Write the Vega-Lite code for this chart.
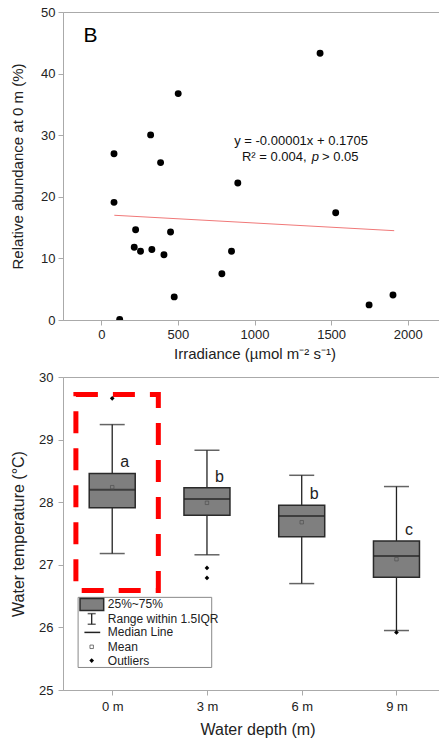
{
  "$schema": "https://vega.github.io/schema/vega-lite/v6.json",
  "padding": {"left": 10, "top": 5, "right": 0, "bottom": 0},
  "background": "white",
  "spacing": 8,
  "datasets": {
    "scatter": [
      {"x": 83, "y": 27.0}, {"x": 83, "y": 19.1}, {"x": 120, "y": 0.1},
      {"x": 215, "y": 11.8}, {"x": 224, "y": 14.65}, {"x": 256, "y": 11.15},
      {"x": 322, "y": 30.05}, {"x": 330, "y": 11.45}, {"x": 387, "y": 25.55},
      {"x": 409, "y": 10.6}, {"x": 452, "y": 14.3}, {"x": 476, "y": 3.75},
      {"x": 502, "y": 36.75}, {"x": 787, "y": 7.5}, {"x": 850, "y": 11.15},
      {"x": 891, "y": 22.25}, {"x": 1428, "y": 43.3}, {"x": 1530, "y": 17.4},
      {"x": 1748, "y": 2.45}, {"x": 1904, "y": 4.05}
    ],
    "fit": [{"x": 85, "y": 17.0}, {"x": 1912, "y": 14.5}],
    "boxes": [
      {"depth": 0, "lo": 27.18, "q1": 27.91, "median": 28.2, "mean": 28.24, "q3": 28.46, "hi": 29.24, "letter": "a"},
      {"depth": 3, "lo": 27.16, "q1": 27.79, "median": 28.05, "mean": 27.99, "q3": 28.23, "hi": 28.83, "letter": "b"},
      {"depth": 6, "lo": 26.7, "q1": 27.45, "median": 27.78, "mean": 27.68, "q3": 27.95, "hi": 28.43, "letter": "b"},
      {"depth": 9, "lo": 25.95, "q1": 26.8, "median": 27.14, "mean": 27.09, "q3": 27.38, "hi": 28.25, "letter": "c"}
    ],
    "outliers": [
      {"depth": 0, "temp": 29.66},
      {"depth": 3, "temp": 26.95},
      {"depth": 3, "temp": 26.79},
      {"depth": 9, "temp": 25.92}
    ],
    "legendText": [
      {"label": "25%~75%", "y": 26.37},
      {"label": "Range within 1.5IQR", "y": 26.14},
      {"label": "Median Line", "y": 25.92},
      {"label": "Mean", "y": 25.69},
      {"label": "Outliers", "y": 25.47}
    ]
  },
  "vconcat": [
    {
      "width": 383,
      "height": 308,
      "layer": [
        {
          "data": {"name": "scatter"},
          "mark": {"type": "circle", "size": 48, "color": "black", "opacity": 1, "clip": true},
          "encoding": {
            "x": {
              "field": "x", "type": "quantitative",
              "scale": {"domain": [-250, 2250], "nice": false, "zero": false},
              "axis": {
                "title": "Irradiance (µmol m⁻² s⁻¹)",
                "values": [0, 500, 1000, 1500, 2000],
                "format": "d",
                "labelOverlap": false,
                "labelFlush": false,
                "tickSize": 5,
                "labelPadding": 3,
                "titlePadding": 5,
                "titleFontSize": 15
              }
            },
            "y": {
              "field": "y", "type": "quantitative",
              "scale": {"domain": [0, 50], "nice": false},
              "axis": {
                "title": "Relative abundance at 0 m (%)",
                "values": [0, 5, 10, 15, 20, 25, 30, 35, 40, 45, 50],
                "labelExpr": "datum.value % 10 === 0 ? format(datum.value, 'd') : ''",
                "labelOverlap": false,
                "tickSize": {"condition": {"test": "datum.value % 10 === 0", "value": 5}, "value": 3},
                "labelPadding": 3,
                "titlePadding": 15,
                "titleFontSize": 15
              }
            }
          }
        },
        {
          "data": {"name": "fit"},
          "mark": {"type": "line", "color": "#f07878", "strokeWidth": 1},
          "encoding": {
            "x": {"field": "x", "type": "quantitative"},
            "y": {"field": "y", "type": "quantitative"}
          }
        },
        {
          "data": {"values": [{"x": -117, "y": 46.1, "t": "B"}]},
          "mark": {"type": "text", "align": "left", "baseline": "middle", "fontSize": 21, "color": "black"},
          "encoding": {
            "x": {"field": "x", "type": "quantitative"},
            "y": {"field": "y", "type": "quantitative"},
            "text": {"field": "t"}
          }
        },
        {
          "data": {"values": [{"x": 1304, "y": 29.06, "t": "y = -0.00001x + 0.1705"}]},
          "mark": {"type": "text", "align": "center", "baseline": "middle", "fontSize": 13, "color": "#111"},
          "encoding": {
            "x": {"field": "x", "type": "quantitative"},
            "y": {"field": "y", "type": "quantitative"},
            "text": {"field": "t"}
          }
        },
        {
          "data": {"values": [{"x": 918, "y": 26.51, "t": "R² = 0.004,"}, {"x": 1441, "y": 26.51, "t": "> 0.05"}]},
          "mark": {"type": "text", "align": "left", "baseline": "middle", "fontSize": 13, "color": "#111"},
          "encoding": {
            "x": {"field": "x", "type": "quantitative"},
            "y": {"field": "y", "type": "quantitative"},
            "text": {"field": "t"}
          }
        },
        {
          "data": {"values": [{"x": 1397, "y": 26.51, "t": "p"}]},
          "mark": {"type": "text", "align": "center", "baseline": "middle", "fontSize": 13, "fontStyle": "italic", "color": "#111"},
          "encoding": {
            "x": {"field": "x", "type": "quantitative"},
            "y": {"field": "y", "type": "quantitative"},
            "text": {"field": "t"}
          }
        }
      ]
    },
    {
      "width": 389,
      "height": 313,
      "layer": [
        {
          "data": {"name": "boxes"},
          "mark": {"type": "rule", "color": "#222", "strokeWidth": 1.3},
          "encoding": {
            "x": {
              "field": "depth", "type": "quantitative",
              "scale": {"domain": [-1.4, 10.6], "nice": false, "zero": false},
              "axis": {
                "title": "Water depth (m)",
                "values": [0, 3, 6, 9],
                "labelExpr": "datum.value + ' m'",
                "tickSize": 5,
                "labelPadding": 5,
                "titlePadding": 8,
                "titleFontSize": 16
              }
            },
            "y": {
              "field": "lo", "type": "quantitative",
              "scale": {"domain": [25, 30], "nice": false, "zero": false},
              "axis": {
                "title": "Water temperature (°C)",
                "values": [25, 25.5, 26, 26.5, 27, 27.5, 28, 28.5, 29, 29.5, 30],
                "labelExpr": "datum.value % 1 === 0 ? format(datum.value, 'd') : ''",
                "labelOverlap": false,
                "tickSize": {"condition": {"test": "datum.value % 1 === 0", "value": 5}, "value": 3},
                "labelPadding": 5,
                "titlePadding": 12,
                "titleFontSize": 16
              }
            },
            "y2": {"field": "hi"}
          }
        },
        {
          "data": {"name": "boxes"},
          "mark": {"type": "tick", "orient": "horizontal", "size": 25, "thickness": 1.5, "color": "#222"},
          "encoding": {
            "x": {"field": "depth", "type": "quantitative"},
            "y": {"field": "lo", "type": "quantitative"}
          }
        },
        {
          "data": {"name": "boxes"},
          "mark": {"type": "tick", "orient": "horizontal", "size": 25, "thickness": 1.5, "color": "#222"},
          "encoding": {
            "x": {"field": "depth", "type": "quantitative"},
            "y": {"field": "hi", "type": "quantitative"}
          }
        },
        {
          "data": {"name": "boxes"},
          "mark": {"type": "bar", "orient": "vertical", "size": 46, "fill": "#7f7f7f", "stroke": "#2a2a2a", "strokeWidth": 1.5},
          "encoding": {
            "x": {"field": "depth", "type": "quantitative"},
            "y": {"field": "q1", "type": "quantitative"},
            "y2": {"field": "q3"}
          }
        },
        {
          "data": {"name": "boxes"},
          "mark": {"type": "tick", "orient": "horizontal", "size": 46, "thickness": 2, "color": "#222"},
          "encoding": {
            "x": {"field": "depth", "type": "quantitative"},
            "y": {"field": "median", "type": "quantitative"}
          }
        },
        {
          "data": {"name": "boxes"},
          "mark": {"type": "point", "shape": "square", "size": 12, "filled": false, "stroke": "#555", "strokeWidth": 0.8, "opacity": 1},
          "encoding": {
            "x": {"field": "depth", "type": "quantitative"},
            "y": {"field": "mean", "type": "quantitative"}
          }
        },
        {
          "data": {"name": "boxes"},
          "mark": {"type": "text", "align": "center", "baseline": "middle", "fontSize": 16, "dx": 12.5, "dy": -11, "color": "#222"},
          "encoding": {
            "x": {"field": "depth", "type": "quantitative"},
            "y": {"field": "q3", "type": "quantitative"},
            "text": {"field": "letter"}
          }
        },
        {
          "data": {"name": "outliers"},
          "mark": {"type": "point", "shape": "diamond", "size": 22, "filled": true, "color": "black", "opacity": 1},
          "encoding": {
            "x": {"field": "depth", "type": "quantitative"},
            "y": {"field": "temp", "type": "quantitative"}
          }
        },
        {
          "data": {"values": [{"x1": -1.15, "x2": 1.46, "y1": 29.72, "y2": 26.59}]},
          "mark": {"type": "rect", "fill": "transparent", "stroke": "#ff0000", "strokeWidth": 5, "strokeDash": [22, 15]},
          "encoding": {
            "x": {"field": "x1", "type": "quantitative"},
            "x2": {"field": "x2"},
            "y": {"field": "y1", "type": "quantitative"},
            "y2": {"field": "y2"}
          }
        },
        {
          "data": {"values": [{"x1": -1.08, "x2": 3.15, "y1": 26.48, "y2": 25.36}]},
          "mark": {"type": "rect", "fill": "white", "stroke": "#888", "strokeWidth": 1},
          "encoding": {
            "x": {"field": "x1", "type": "quantitative"},
            "x2": {"field": "x2"},
            "y": {"field": "y1", "type": "quantitative"},
            "y2": {"field": "y2"}
          }
        },
        {
          "data": {"values": [{"x1": -1.02, "x2": -0.27, "y1": 26.46, "y2": 26.27}]},
          "mark": {"type": "rect", "fill": "#7f7f7f", "stroke": "#2a2a2a", "strokeWidth": 1.5},
          "encoding": {
            "x": {"field": "x1", "type": "quantitative"},
            "x2": {"field": "x2"},
            "y": {"field": "y1", "type": "quantitative"},
            "y2": {"field": "y2"}
          }
        },
        {
          "data": {"values": [{"x": -0.65, "y1": 26.22, "y2": 26.05}]},
          "mark": {"type": "rule", "color": "#222", "strokeWidth": 1.3},
          "encoding": {
            "x": {"field": "x", "type": "quantitative"},
            "y": {"field": "y1", "type": "quantitative"},
            "y2": {"field": "y2"}
          }
        },
        {
          "data": {"values": [{"x": -0.65, "y": 26.22}, {"x": -0.65, "y": 26.05}]},
          "mark": {"type": "tick", "orient": "horizontal", "size": 8, "thickness": 1.5, "color": "#222"},
          "encoding": {
            "x": {"field": "x", "type": "quantitative"},
            "y": {"field": "y", "type": "quantitative"}
          }
        },
        {
          "data": {"values": [{"x1": -0.88, "x2": -0.38, "y": 25.92}]},
          "mark": {"type": "rule", "color": "#222", "strokeWidth": 1.5},
          "encoding": {
            "x": {"field": "x1", "type": "quantitative"},
            "x2": {"field": "x2"},
            "y": {"field": "y", "type": "quantitative"}
          }
        },
        {
          "data": {"values": [{"x": -0.65, "y": 25.69}]},
          "mark": {"type": "point", "shape": "square", "size": 12, "filled": false, "stroke": "#555", "strokeWidth": 0.8, "opacity": 1},
          "encoding": {
            "x": {"field": "x", "type": "quantitative"},
            "y": {"field": "y", "type": "quantitative"}
          }
        },
        {
          "data": {"values": [{"x": -0.65, "y": 25.47}]},
          "mark": {"type": "point", "shape": "diamond", "size": 22, "filled": true, "color": "black", "opacity": 1},
          "encoding": {
            "x": {"field": "x", "type": "quantitative"},
            "y": {"field": "y", "type": "quantitative"}
          }
        },
        {
          "data": {"name": "legendText"},
          "mark": {"type": "text", "align": "left", "baseline": "middle", "fontSize": 12, "color": "#222"},
          "encoding": {
            "x": {"datum": -0.14, "type": "quantitative"},
            "y": {"field": "y", "type": "quantitative"},
            "text": {"field": "label"}
          }
        }
      ]
    }
  ],
  "config": {
    "font": "Liberation Sans",
    "view": {"stroke": "#aaa", "strokeWidth": 1},
    "axis": {
      "grid": false,
      "domainColor": "#aaa",
      "tickColor": "#aaa",
      "labelColor": "#222",
      "titleColor": "#222",
      "labelFontSize": 13,
      "titleFontWeight": "normal",
      "labelFont": "Liberation Sans",
      "titleFont": "Liberation Sans"
    }
  }
}
